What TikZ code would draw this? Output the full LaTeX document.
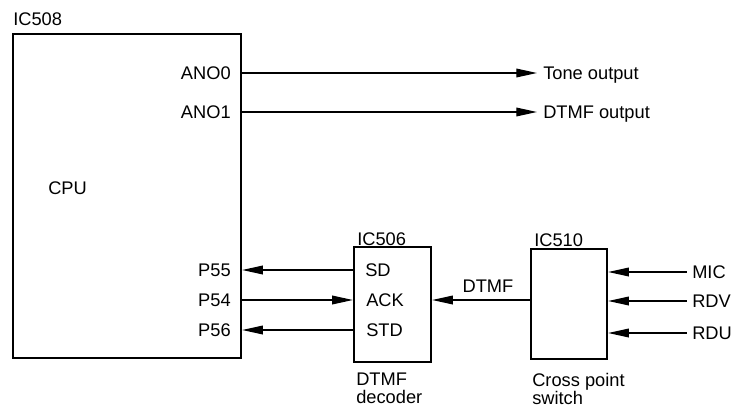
\documentclass[tikz,border=0pt]{standalone}
\usepackage{fontspec}
\setmainfont{Liberation Sans}
\usetikzlibrary{arrows.meta}

\begin{document}
\begin{tikzpicture}[x=0.75pt, y=-0.75pt,
  every node/.style={font=\fontsize{13.7}{13.5}\selectfont, inner sep=0pt},
  lbl/.style={text height=9.8pt, text depth=0pt},
  chip/.style={draw, line width=1.7pt},
  sig/.style={line width=0.95pt, -{Triangle[length=15.5pt, width=6.5pt]}}]
  \useasboundingbox (0,0) rectangle (737,406);
  % chips
  \node[chip, minimum width=171pt, minimum height=243pt] (ic508) at (127,196) {};
  \node[chip, minimum width=57.75pt, minimum height=86.25pt] (ic506) at (392.5,304.5) {};
  \node[chip, minimum width=57pt, minimum height=82.5pt] (ic510) at (569,304) {};
  \node[lbl, anchor=west] (ic508name) at (13,19) {IC508};
  \node[lbl, anchor=west] (ic506name) at (357,239) {IC506};
  \node[lbl, anchor=west] (ic510name) at (534,240) {IC510};
  \node[lbl, anchor=west] (cpu) at (48,188) {CPU};
  \node[anchor=north west, align=left] (ic506txt) at (356,372.5) {DTMF\\decoder};
  \node[anchor=north west, align=left] (ic510txt) at (532,372.5) {Cross point\\switch};
  % pins
  \node[lbl, anchor=east] (ano0) at (231,73) {ANO0};
  \node[lbl, anchor=east] (ano1) at (231,112) {ANO1};
  \node[lbl, anchor=east] (p55) at (231,270) {P55};
  \node[lbl, anchor=east] (p54) at (231,300) {P54};
  \node[lbl, anchor=east] (p56) at (231,330) {P56};
  \node[lbl, anchor=west] (sd) at (365,270) {SD};
  \node[lbl, anchor=west] (ack) at (366,300) {ACK};
  \node[lbl, anchor=west] (std) at (366,330) {STD};
  % outputs and inputs
  \coordinate (toneend) at (537,73);
  \coordinate (dtmfend) at (537,112);
  \node[lbl, anchor=west] (tone) at (543,73) {Tone output};
  \node[lbl, anchor=west] (dtmfout) at (543,112) {DTMF output};
  \node[lbl, anchor=west] (mic) at (692,272) {MIC};
  \node[lbl, anchor=west] (rdv) at (692,301) {RDV};
  \node[lbl, anchor=west] (rdu) at (692,333) {RDU};
  \node[lbl] (dtmf) at (488,286) {DTMF};
  % signals
  \draw[sig] (ic508.east |- ano0) -- (toneend);
  \draw[sig] (ic508.east |- ano1) -- (dtmfend);
  \draw[sig] (ic506.west |- sd) -- (ic508.east |- sd);
  \draw[sig] (ic508.east |- ack) -- (ic506.west |- ack);
  \draw[sig] (ic506.west |- std) -- (ic508.east |- std);
  \draw[sig] (ic510.west |- ack) -- (ic506.east |- ack);
  \draw[sig] ([xshift=-4pt]mic.west) -- (ic510.east |- mic);
  \draw[sig] ([xshift=-4pt]rdv.west) -- (ic510.east |- rdv);
  \draw[sig] ([xshift=-4pt]rdu.west) -- (ic510.east |- rdu);
\end{tikzpicture}
\end{document}
